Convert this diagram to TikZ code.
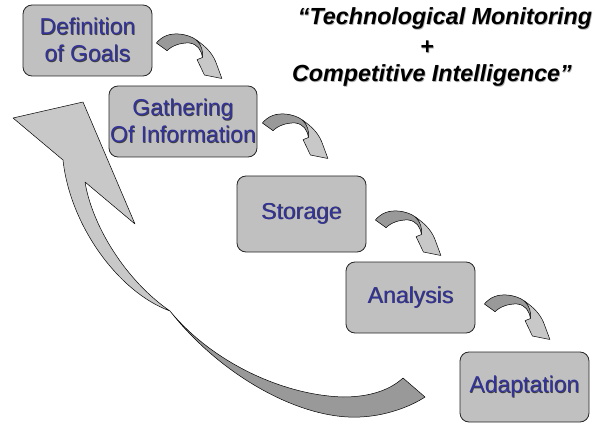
\documentclass[tikz,border=0pt]{standalone}
\usepackage{fontspec}
\setmainfont{Liberation Sans}
\usetikzlibrary{calc}

\definecolor{boxfill}{HTML}{C0C0C0}
\definecolor{boxtext}{HTML}{333399}
\definecolor{armlight}{HTML}{C8C8C8}
\definecolor{armdark}{HTML}{999999}

% text with a small drop shadow: #1 text, #2 shadow colour
\newcommand\shadowtext[2]{\makebox[0pt][l]{\hspace*{0.7pt}\raisebox{-0.7pt}{\textcolor{#2}{#1}}}#1}

\tikzset{
  stage/.style={draw=black!85, line width=0.8pt, fill=boxfill, rounded corners=9pt,
    minimum width=129pt, minimum height=71pt, align=center, inner sep=0pt,
    text=boxtext, font=\fontsize{23}{27}\selectfont},
  headline/.style={anchor=base, inner sep=0pt, font=\fontsize{23.3}{27}\selectfont\bfseries\itshape},
  outline/.style={draw=black, line width=0.5pt, line join=round},
  % small curved step arrow, origin at the outer corner of its tail
  bend arrow/.pic={
    \fill[armlight] (0,0) .. controls (6,-7) and (13,-9.5) .. (22,-9)
      .. controls (30,-8.5) and (36,-6) .. (40,-3)
      .. controls (50,4) and (57,11) .. (60.5,22) -- (65.5,35.5) -- (48,32) -- (40.7,16.7)
      -- (46,14.5) .. controls (45,7) and (41,1) .. (33,0)
      .. controls (24,-0.5) and (15,3) .. (10.7,7.7) -- cycle;
    \fill[armdark] (0,0) .. controls (6,-7) and (13,-9.5) .. (22,-9)
      .. controls (30,-8.5) and (36,-6) .. (40,-3)
      .. controls (45,2) and (47,8) .. (46,14.5)
      .. controls (45,7) and (41,1) .. (33,0)
      .. controls (24,-0.5) and (15,3) .. (10.7,7.7) -- cycle;
    \draw[outline] (0,0) .. controls (6,-7) and (13,-9.5) .. (22,-9)
      .. controls (30,-8.5) and (36,-6) .. (40,-3)
      .. controls (50,4) and (57,11) .. (60.5,22) -- (65.5,35.5) -- (48,32) -- (40.7,16.7)
      -- (46,14.5) .. controls (45,7) and (41,1) .. (33,0)
      .. controls (24,-0.5) and (15,3) .. (10.7,7.7) -- cycle;
    \draw[outline] (40,-3) .. controls (45,2) and (47,8) .. (46,14.5);
  }
}

\begin{document}
\begin{tikzpicture}[x=1pt, y=-1pt]
\useasboundingbox (0,0) rectangle (595,425);

% large return arrow: twisted lower band
\coordinate (twist) at (170,311);
\path[fill=armdark, outline] (twist)
  .. controls (220,375) and (300,420) .. (360,417)
  .. controls (385,416) and (410,407) .. (425,397) -- (403,378)
  .. controls (390,390) and (370,397) .. (343,397)
  .. controls (280,395) and (210,360) .. (twist) -- cycle;
% large return arrow: upper band and head
\path[fill=armlight, outline] (twist)
  .. controls (118,292) and (70,225) .. (63,160)
  -- (13,118) -- (83,102) -- (135,224) -- (85,182)
  .. controls (92,225) and (125,280) .. (twist) -- cycle;

% process steps
\node[stage] (def) at (87.5,40.5) {\shadowtext{Definition}{black!75}\\\shadowtext{of Goals}{black!75}};
\node[stage, minimum width=148pt] (gat) at (183,121.5) {\shadowtext{Gathering}{black!75}\\\shadowtext{Of Information}{black!75}};
\node[stage, minimum height=76pt] (sto) at (301.5,214) {\shadowtext{Storage}{black!75}};
\node[stage] (ana) at (410.5,297.5) {\shadowtext{Analysis}{black!75}};
\node[stage, minimum height=70pt] (ada) at (524.5,387) {\shadowtext{Adaptation}{black!75}};

% step arrows
\pic at ($(def.east)+(4,2.5)$) {bend arrow};
\pic at ($(gat.east)+(5,1.5)$) {bend arrow};
\pic at ($(sto.east)+(9,6)$) {bend arrow};
\pic at ($(ana.east)+(9,6.5)$) {bend arrow};

% headline
\node[headline] (t1) at (445,25) {\shadowtext{“Technological Monitoring}{black!30}};
\node[headline] (t2) at (427,55) {\shadowtext{+}{black!30}};
\node[headline] (t3) at (432,82) {\shadowtext{Competitive Intelligence”}{black!30}};
\end{tikzpicture}
\end{document}
